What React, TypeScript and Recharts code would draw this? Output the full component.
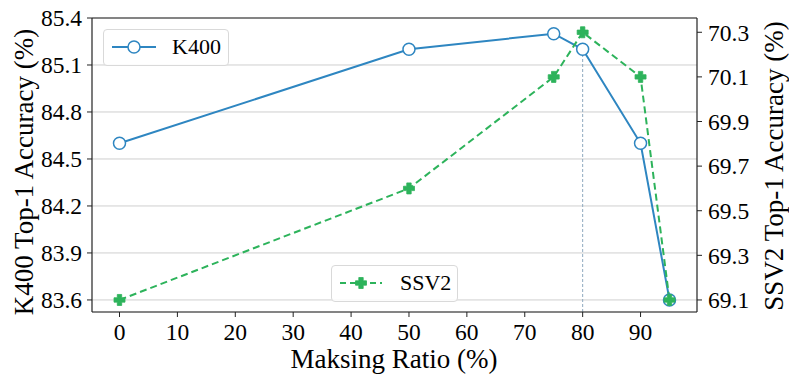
import React from 'react';
import { ComposedChart, Line, XAxis, YAxis, CartesianGrid, ReferenceLine, Legend, Label } from 'recharts';

const ratios = [0, 50, 75, 80, 90, 95];
const k400 = [84.6, 85.2, 85.3, 85.2, 84.6, 83.6];
const ssv2 = [69.1, 69.6, 70.1, 70.3, 70.1, 69.1];
const xTicks = [0, 10, 20, 30, 40, 50, 60, 70, 80, 90];
const leftTicks = [83.6, 83.9, 84.2, 84.5, 84.8, 85.1, 85.4];
const rightTicks = [69.1, 69.3, 69.5, 69.7, 69.9, 70.1, 70.3];

const data = ratios.map((r, i) => ({ x: r, k400: k400[i], ssv2: ssv2[i] }));

const BLUE = '#2e86c1';
const GREEN = '#2db35b';
const FONT = '"Liberation Serif", serif';

const PlusDot = (props: any) => {
  const { cx, cy } = props;
  if (cx == null || cy == null) return null;
  const a = 5.5, w = 2.2;
  const d = `M${cx - w},${cy - a} H${cx + w} V${cy - w} H${cx + a} V${cy + w} H${cx + w} V${cy + a} H${cx - w} V${cy + w} H${cx - a} V${cy - w} H${cx - w} Z`;
  return <path d={d} fill={GREEN} stroke={GREEN} strokeWidth={0.8} />;
};

const legendBox: React.CSSProperties = {
  position: 'absolute',
  border: '1px solid #d9d9d9',
  borderRadius: 4,
  background: 'rgba(255,255,255,0.85)',
  boxSizing: 'border-box',
};

const LegendContent = () => (
  <div style={{ position: 'relative', width: 0, height: 0, fontFamily: FONT }}>
    <div style={{ ...legendBox, left: 103, top: 29, width: 126, height: 37 }}>
      <svg width={60} height={37} style={{ position: 'absolute', left: 0, top: 0 }}>
        <line x1={8} y1={17} x2={52} y2={17} stroke={BLUE} strokeWidth={2} />
        <circle cx={30} cy={17} r={6} fill="white" stroke={BLUE} strokeWidth={1.5} />
      </svg>
      <span style={{ position: 'absolute', left: 68, top: 4, fontFamily: FONT, fontSize: 22, lineHeight: '26px', color: '#000' }}>K400</span>
    </div>
    <div style={{ ...legendBox, left: 331, top: 265, width: 127, height: 37 }}>
      <svg width={60} height={37} style={{ position: 'absolute', left: 0, top: 0 }}>
        <line x1={8} y1={17} x2={50} y2={17} stroke={GREEN} strokeWidth={2} strokeDasharray="6 4" />
        <PlusDot cx={29} cy={17} />
      </svg>
      <span style={{ position: 'absolute', left: 68, top: 4, fontFamily: FONT, fontSize: 22, lineHeight: '26px', color: '#000' }}>SSV2</span>
    </div>
  </div>
);

const tickStyle = { fontFamily: FONT, fontSize: 23.5, fill: '#000' };
const LABEL_SIZE = 27;

export default function App() {
  return (
    <div style={{ position: 'absolute', left: 0, top: 0, width: 789, height: 385, background: '#fff', fontFamily: FONT }}>
      <ComposedChart width={789} height={385} data={data} margin={{ top: 18, right: 32, bottom: 33, left: 32 }} style={{ fontFamily: FONT }}>
        <CartesianGrid yAxisId="left" horizontal vertical={false} stroke="#cfcfcf" strokeWidth={1} />
        <XAxis
          dataKey="x"
          type="number"
          domain={[-4.75, 99.75]}
          ticks={xTicks}
          allowDataOverflow
          height={40}
          tick={tickStyle}
          tickSize={5}
          tickMargin={6}
          stroke="#222"
          tickLine={{ stroke: '#222' }}
          axisLine={{ stroke: '#222', strokeWidth: 1.2 }}
        >
          <Label
            content={() => (
              <text x={394} y={368} textAnchor="middle" style={{ fontFamily: FONT }} fontSize={LABEL_SIZE} fill="#000">
                Maksing Ratio (%)
              </text>
            )}
          />
        </XAxis>
        <YAxis
          yAxisId="left"
          domain={[83.523, 85.4]}
          ticks={leftTicks}
          allowDataOverflow
          width={60}
          tick={tickStyle}
          tickSize={5}
          tickMargin={5}
          tickFormatter={(v: number) => v.toFixed(1)}
          stroke="#222"
          axisLine={{ stroke: '#222', strokeWidth: 1.2 }}
        >
          <Label
            content={() => (
              <text x={33} y={172} transform="rotate(-90 33 172)" textAnchor="middle" style={{ fontFamily: FONT }} fontSize={LABEL_SIZE} fill="#000">
                K400 Top-1 Accuracy (%)
              </text>
            )}
          />
        </YAxis>
        <YAxis
          yAxisId="right"
          orientation="right"
          domain={[69.046, 70.364]}
          ticks={rightTicks}
          allowDataOverflow
          width={60}
          tick={tickStyle}
          tickSize={5}
          tickMargin={6}
          tickFormatter={(v: number) => v.toFixed(1)}
          stroke="#222"
          axisLine={{ stroke: '#222', strokeWidth: 1.2 }}
        >
          <Label
            content={() => (
              <text x={783} y={166} transform="rotate(-90 783 166)" textAnchor="middle" style={{ fontFamily: FONT }} fontSize={LABEL_SIZE} fill="#000">
                SSV2 Top-1 Accuracy (%)
              </text>
            )}
          />
        </YAxis>
        <ReferenceLine yAxisId="left" y={85.4} stroke="#222" strokeWidth={1.2} />
        <ReferenceLine
          yAxisId="left"
          segment={[{ x: 80, y: 83.523 }, { x: 80, y: 85.2 }]}
          stroke="#8fa9bf"
          strokeWidth={1}
          strokeDasharray="3 2"
        />
        <Line
          yAxisId="left"
          dataKey="k400"
          stroke={BLUE}
          strokeWidth={2}
          dot={{ r: 6, fill: '#fff', stroke: BLUE, strokeWidth: 1.5 }}
          activeDot={false}
          isAnimationActive={false}
        />
        <Line
          yAxisId="right"
          dataKey="ssv2"
          stroke={GREEN}
          strokeWidth={2}
          strokeDasharray="7 4"
          dot={<PlusDot />}
          activeDot={false}
          isAnimationActive={false}
        />
        <Legend content={<LegendContent />} wrapperStyle={{ position: 'absolute', left: 0, top: 0, width: 0, height: 0 }} />
      </ComposedChart>
    </div>
  );
}
